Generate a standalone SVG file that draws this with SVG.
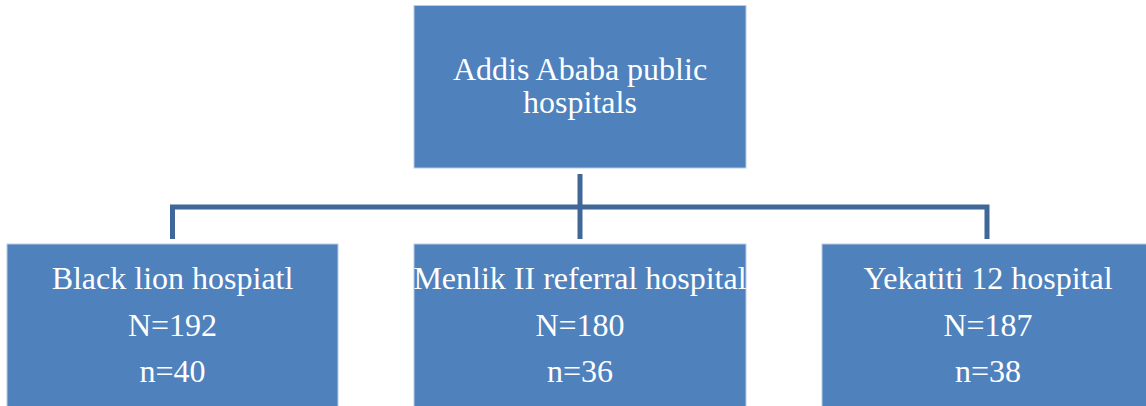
<svg xmlns="http://www.w3.org/2000/svg" width="1146" height="406" viewBox="0 0 1146 406">
<style>
.box{fill:#4F81BD;stroke:#B9CDE5;stroke-width:1}
.t{font-family:"Liberation Serif","Times New Roman",serif;font-size:32px;fill:#FFFFFF;text-anchor:middle}
.c{fill:none;stroke:#3F6798;stroke-width:5}
</style>
<rect width="1146" height="406" fill="#FFFFFF"/>
<g id="connectors">
<path class="c" d="M580,174 V239"/>
<path class="c" d="M172.5,239 V207 H987 V239"/>
</g>
<g id="root">
<rect class="box" x="414" y="5.5" width="332" height="162.5"/>
<text class="t" x="580" y="80">Addis Ababa public</text>
<text class="t" x="580" y="113">hospitals</text>
</g>
<g id="black-lion">
<rect class="box" x="7" y="244" width="331" height="170"/>
<text class="t" x="172.5" y="289">Black lion hospiatl</text>
<text class="t" x="172.5" y="336">N=192</text>
<text class="t" x="172.5" y="382">n=40</text>
</g>
<g id="menlik">
<rect class="box" x="414" y="244" width="332" height="170"/>
<text class="t" x="580" y="289">Menlik II referral hospital</text>
<text class="t" x="580" y="336">N=180</text>
<text class="t" x="580" y="382">n=36</text>
</g>
<g id="yekatiti">
<rect class="box" x="822" y="244" width="332" height="170"/>
<text class="t" x="988" y="289">Yekatiti 12 hospital</text>
<text class="t" x="988" y="336">N=187</text>
<text class="t" x="988" y="382">n=38</text>
</g>
</svg>
